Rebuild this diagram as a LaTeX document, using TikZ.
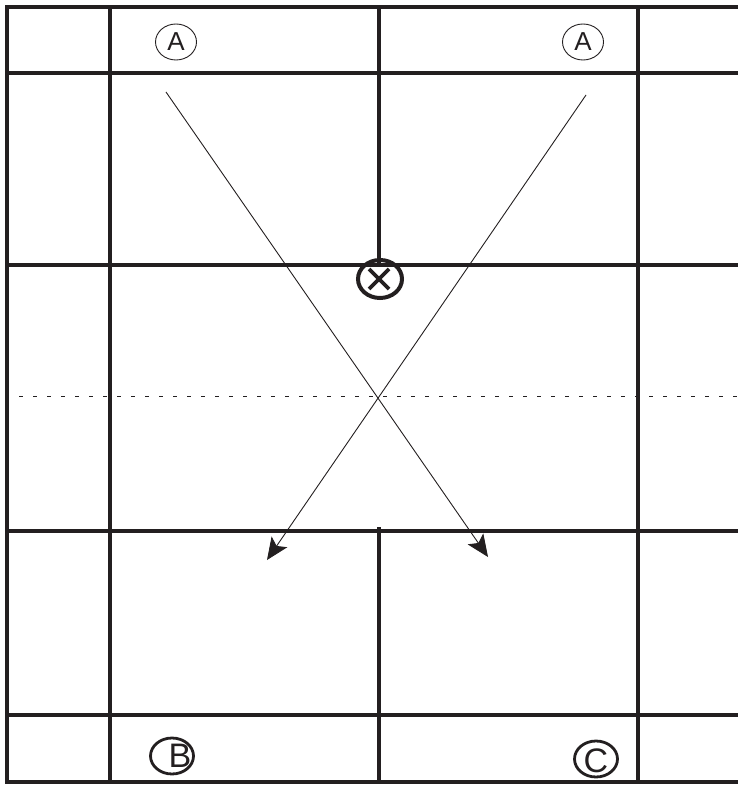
\documentclass[tikz,border=0pt]{standalone}
\usepackage{fontspec}
\setmainfont{Liberation Sans}
\usetikzlibrary{arrows.meta,shapes.geometric}
\definecolor{ink}{HTML}{231F20}
\begin{document}
\begin{tikzpicture}[x=1pt,y=-1pt,
  gridline/.style={line width=3.2pt, draw=ink, line cap=rect},
  dotline/.style={line width=1pt, draw=ink, dash pattern=on 3.5pt off 10.5pt},
  mover/.style={line width=0.9pt, draw=ink, -{Stealth[length=22pt, width=19pt, inset=5pt]}},
  ringthin/.style={ellipse, draw=ink, line width=0.9pt, inner sep=0pt, minimum width=41, minimum height=36},
  ringthick/.style={ellipse, draw=ink, line width=2.8pt, inner sep=0pt, minimum width=43, minimum height=36},
  letsmall/.style={inner sep=0pt, text=ink, font=\fontsize{26}{30}\selectfont},
  letbig/.style={inner sep=0pt, text=ink, font=\fontsize{34}{38}\selectfont}]
\useasboundingbox (0,0) rectangle (737,786);
% horizontal grid lines
\foreach \yy in {7,73,265,531,715,782} {\draw[gridline] (7,\yy) -- (737,\yy);}
% vertical grid lines
\draw[gridline] (7,7) -- (7,782);
\draw[gridline] (110,7) -- (110,782);
\draw[gridline] (638,7) -- (638,782);
\draw[gridline] (379,7) -- (379,265);
\draw[gridline] (379,529) -- (379,782);
% dotted line
\draw[dotline] (5,396) -- (737,396);
% circled A labels
\node[ringthin] (ra1) at (176,42) {};
\node[letsmall] (la1) at (176,42) {A};
\node[ringthin] (ra2) at (583,42) {};
\node[letsmall] (la2) at (583,42) {A};
% circled B and C
\node[ringthick] (rb) at (172,756) {};
\node[letbig] (lb) at (180,756) {B};
\node[ringthick] (rc) at (596,759) {};
\node[letbig] (lc) at (596,761) {C};
% circled cross
\node[ellipse, draw=ink, line width=4pt, inner sep=0pt, minimum width=44, minimum height=38] (xc) at (380,279) {};
\draw[ink, line width=3.6pt] (369,269) -- (389,289) (389,269) -- (369,289);
% movement arrows
\coordinate (s1) at (166,92);
\coordinate (e1) at (488,557);
\coordinate (s2) at (586,95);
\coordinate (e2) at (267,560);
\draw[mover] (s1) -- (e1);
\draw[mover] (s2) -- (e2);
\end{tikzpicture}
\end{document}
